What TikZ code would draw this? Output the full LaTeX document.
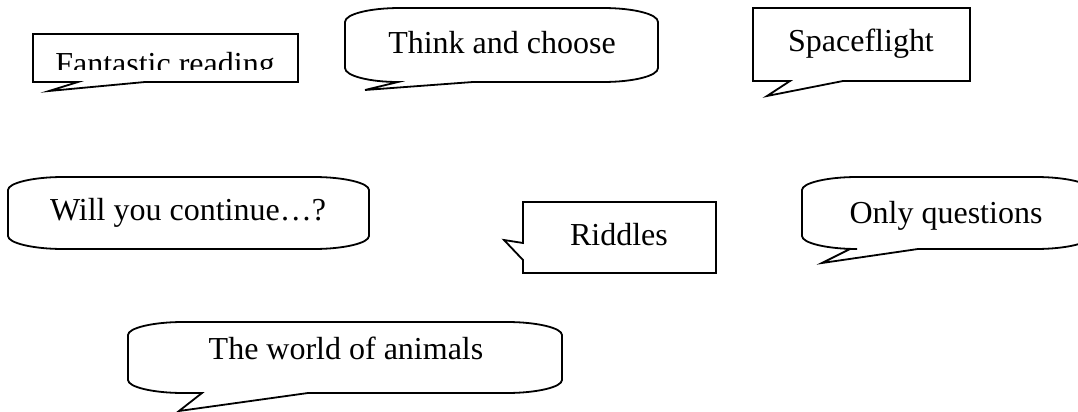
\documentclass[tikz,border=0pt]{standalone}
\usepackage{fontspec}
\setmainfont{Liberation Serif}
\usepackage{tikz}
\tikzset{
	x=0.5pt, y=-0.5pt, % Coordenadas en pixeles
	bubble/.style={draw, line width=0.9pt, line join=miter, fill=white}, % Contorno de los globos
	bubbletext/.style={anchor=base, inner sep=0pt, font=\fontsize{16}{19}\selectfont} % Texto de los globos
}

\begin{document}
\begin{tikzpicture}
				\useasboundingbox (0,0) rectangle (1078,412);
				\begin{scope}
					\clip (0,0) rectangle (1078,412);
					\draw[bubble] (33,34) -- (298,34) -- (298,82) -- (145,82) -- (49,91) -- (78,82) -- (33,82) -- cycle;
					\draw[bubble] (345,22) .. controls (345,14) and (370,8) .. (400,8) -- (603,8) .. controls (633,8) and (658,14) .. (658,22)
						-- (658,68) .. controls (658,76) and (633,82) .. (603,82) -- (473,82) -- (365,90) -- (398,82)
						.. controls (370,82) and (345,76) .. (345,68) -- cycle;
					\draw[bubble] (753,8) -- (970,8) -- (970,81) -- (843,81) -- (767,96) -- (790,81) -- (753,81) -- cycle;
					\draw[bubble] (8,190) .. controls (8,183) and (33,177) .. (63,177) -- (314,177) .. controls (344,177) and (369,183) .. (369,190)
						-- (369,236) .. controls (369,243) and (344,249) .. (314,249) -- (63,249) .. controls (33,249) and (8,243) .. (8,236) -- cycle;
					\draw[bubble] (523,202) -- (716,202) -- (716,273) -- (523,273) -- (523,260) -- (504,240) -- (523,243) -- cycle;
					\draw[bubble] (802,190) .. controls (802,183) and (827,177) .. (857,177) -- (1036,177) .. controls (1066,177) and (1091,183) .. (1091,190)
						-- (1091,236) .. controls (1091,243) and (1066,249) .. (1036,249) -- (918,249) -- (822,263) -- (850,249)
						-- (857,249) .. controls (827,249) and (802,243) .. (802,236) -- cycle;
					\draw[bubble] (128,335) .. controls (128,328) and (153,322) .. (183,322) -- (507,322) .. controls (537,322) and (562,328) .. (562,335)
						-- (562,380) .. controls (562,387) and (537,393) .. (507,393) -- (308,393) -- (179,411) -- (202,393)
						-- (183,393) .. controls (153,393) and (128,387) .. (128,380) -- cycle;
				\end{scope}
				\begin{scope}
					\clip (33,34) rectangle (298,69);
					\node[bubbletext] (fantastic) at (165,75) {Fantastic reading};
				\end{scope}
				\node[bubbletext] (think) at (502,54) {Think and choose};
				\node[bubbletext] (space) at (861,51) {Spaceflight};
				\node[bubbletext] (continue) at (188,220) {Will you continue…?};
				\node[bubbletext] (riddles) at (619,245) {Riddles};
				\node[bubbletext] (questions) at (946,223) {Only questions};
				\node[bubbletext] (animals) at (346,359) {The world of animals};
			\end{tikzpicture}
\end{document}
